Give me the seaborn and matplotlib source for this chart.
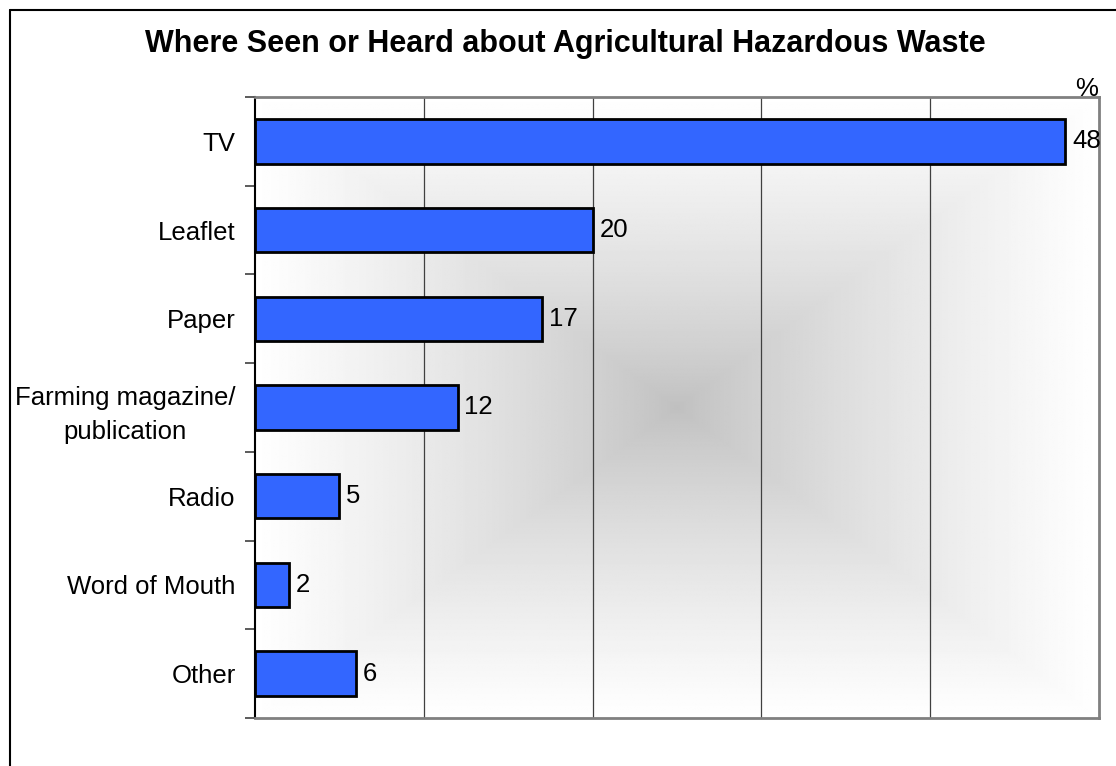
import numpy as np
import pandas as pd
import matplotlib
matplotlib.use("Agg")
import matplotlib.pyplot as plt
import seaborn as sns
from matplotlib.lines import Line2D

# data
sources = ["TV", "Leaflet", "Paper", "Farming magazine/\npublication",
           "Radio", "Word of Mouth", "Other"]
percent = [48, 20, 17, 12, 5, 2, 6]

df = pd.DataFrame({"source": sources, "pct": percent})

sns.set_style("white")
plt.rcParams["font.family"] = ["Liberation Sans", "DejaVu Sans"]
plt.rcParams["text.color"] = "black"
plt.rcParams["ytick.labelcolor"] = "black"

fig = plt.figure(figsize=(11.16, 7.66), dpi=100)
ax = fig.add_axes([255 / 1116, 1 - 718 / 766, (1099 - 255) / 1116, (718 - 97) / 766])

# rectangular "from centre" grey gradient behind the bars
n = 400
gx, gy = np.meshgrid(np.linspace(-1, 1, n), np.linspace(-1, 1, n))
d = np.maximum(np.abs(gx), np.abs(gy))
shade = 0.75 + 0.25 * d ** 0.8
ax.imshow(shade, cmap="gray", vmin=0, vmax=1, extent=[0, 50, 6.5, -0.5],
          aspect="auto", zorder=0, interpolation="bilinear")

sns.barplot(data=df, x="pct", y="source", orient="h", color="#3366FF",
            edgecolor="black", linewidth=2, width=0.5, saturation=1, ax=ax, zorder=3)

ax.set_xlim(0, 50)
ax.set_ylim(6.5, -0.5)
ax.set_xlabel("")
ax.set_ylabel("")

# vertical gridlines
for v in [10, 20, 30, 40]:
    ax.axvline(v, color="#404040", lw=0.9, zorder=1)

ax.set_xticks([])
ax.tick_params(axis="y", which="major", length=0, pad=14, labelsize=18.5,
               labelcolor="black")
for lbl in ax.get_yticklabels():
    lbl.set_multialignment("center")
    lbl.set_linespacing(1.5)
ax.set_yticks(np.arange(-0.5, 7, 1), minor=True)
ax.tick_params(axis="y", which="minor", length=7, width=1.2, color="#404040", left=True)

for side in ["top", "right", "bottom"]:
    ax.spines[side].set_color("#808080")
    ax.spines[side].set_linewidth(2)
ax.spines["left"].set_color("black")
ax.spines["left"].set_linewidth(1.5)

for i, v in enumerate(percent):
    ax.text(v + 0.4, i, str(v), va="center", ha="left", fontsize=18.5,
            color="black", zorder=4)

fig.text(0.507, 0.942, "Where Seen or Heard about Agricultural Hazardous Waste",
         ha="center", va="center", fontsize=22, fontweight="bold", color="black")
fig.text(0.984, 0.884, "%", ha="right", va="center", fontsize=18.5, color="black")

# outer chart frame (only top and left visible in the crop)
fig.add_artist(Line2D([10 / 1116, 10 / 1116], [-0.01, 1 - 10 / 766],
                      transform=fig.transFigure, color="black", lw=1.5))
fig.add_artist(Line2D([10 / 1116, 1.01], [1 - 10 / 766, 1 - 10 / 766],
                      transform=fig.transFigure, color="black", lw=1.5))

fig.savefig("out.png", dpi=100, facecolor="white")
